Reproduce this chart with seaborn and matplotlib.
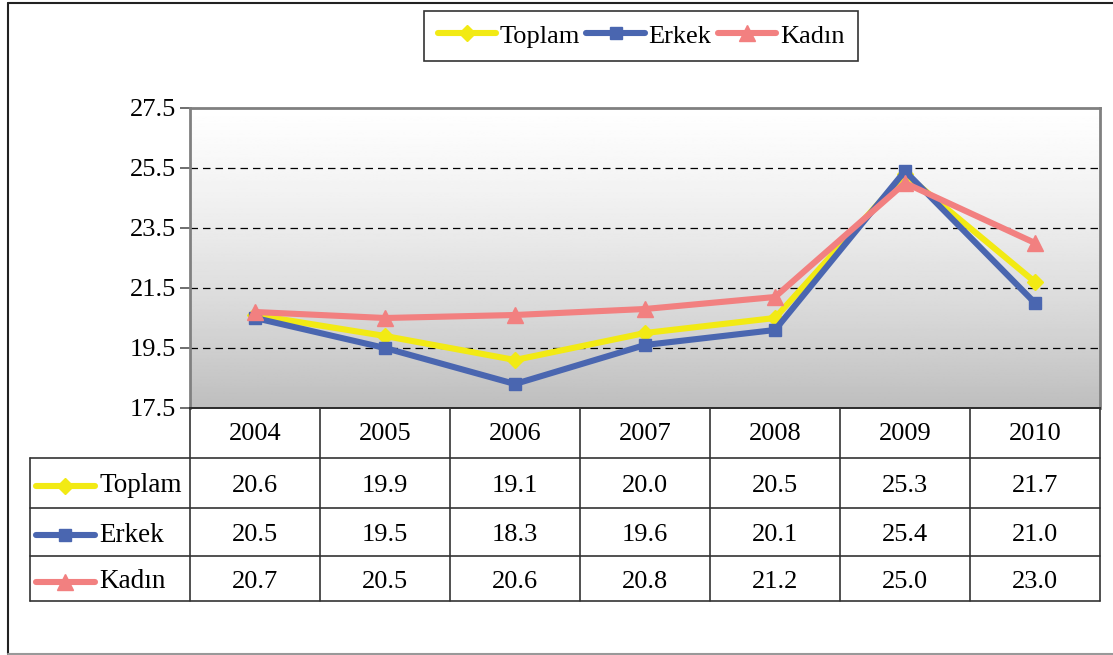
import numpy as np
import pandas as pd
import matplotlib.pyplot as plt
import seaborn as sns
from matplotlib.lines import Line2D

sns.set_theme(style="white")
plt.rcParams['font.family'] = ['Liberation Serif', 'DejaVu Serif']
plt.rcParams['text.color'] = 'black'
plt.rcParams['ytick.color'] = 'black'
plt.rcParams['xtick.color'] = 'black'

# data
years = ['2004', '2005', '2006', '2007', '2008', '2009', '2010']
toplam = [20.6, 19.9, 19.1, 20.0, 20.5, 25.3, 21.7]
erkek = [20.5, 19.5, 18.3, 19.6, 20.1, 25.4, 21.0]
kadin = [20.7, 20.5, 20.6, 20.8, 21.2, 25.0, 23.0]
series_names = ['Toplam', 'Erkek', 'Kadın']
y_ticks = [17.5, 19.5, 21.5, 23.5, 25.5, 27.5]
grid_levels = [19.5, 21.5, 23.5, 25.5]

colors = {'Toplam': '#F2EA14', 'Erkek': '#4A66B0', 'Kadın': '#F28080'}
markers = {'Toplam': 'D', 'Erkek': 's', 'Kadın': '^'}
msizes = {'Toplam': 8.5, 'Erkek': 8.0, 'Kadın': 11.5}

df = pd.DataFrame({'pos': np.arange(len(years)), 'year': years,
                   'Toplam': toplam, 'Erkek': erkek, 'Kadın': kadin})

W, H = 1113, 655
fig = plt.figure(figsize=(W / 100, H / 100), dpi=100)
FS = 19


def fig_rect(x0, y0, x1, y1):
    # pixel box (top-left origin) -> figure fraction rect
    return [x0 / W, 1 - y1 / H, (x1 - x0) / W, (y1 - y0) / H]


ax = fig.add_axes(fig_rect(190, 108, 1100, 408))

# gradient background of the plot area
shade = np.linspace(255, 190, 256)
shade = 255 - (255 - shade) * np.linspace(0.6, 1.0, 256)
grad = np.repeat((shade / 255)[:, None], 2, axis=1)
ax.imshow(grad, cmap='gray', vmin=0, vmax=1, aspect='auto',
          extent=(-0.5, 6.5, 17.5, 27.5), origin='upper', zorder=0)

for lv in grid_levels:
    ax.axhline(lv, color='black', linestyle=(0, (6, 4)), linewidth=0.9, zorder=1)

for name in series_names:
    sns.lineplot(data=df, x='pos', y=name, ax=ax, color=colors[name],
                 marker=markers[name], markersize=msizes[name],
                 markeredgecolor=colors[name], markeredgewidth=1,
                 linewidth=4.4, legend=False, zorder=3)

ax.set_xlim(-0.5, 6.5)
ax.set_ylim(17.5, 27.5)
ax.set_yticks(y_ticks)
ax.set_yticklabels([f'{v:.1f}' for v in y_ticks], fontsize=FS)
ax.set_xticks([])
ax.set_xlabel('')
ax.set_ylabel('')
ax.tick_params(axis='y', direction='out', length=7, width=1.2,
               color='#555555', labelcolor='black', pad=3, left=True)
for side in ['left', 'right', 'top']:
    ax.spines[side].set_color('#808080')
    ax.spines[side].set_linewidth(2)
ax.spines['bottom'].set_color('black')
ax.spines['bottom'].set_linewidth(1.2)

# legend at the top
handles = [Line2D([], [], color=colors[n], marker=markers[n], markersize=msizes[n],
                  markeredgecolor=colors[n], linewidth=4.4) for n in series_names]
leg = fig.legend(handles, series_names, loc='upper center', ncol=3,
                 bbox_to_anchor=(641 / W, 1 - 11 / H), fontsize=19,
                 frameon=True, fancybox=False, edgecolor='black',
                 handlelength=2.2, handletextpad=0.15, columnspacing=0.25,
                 borderpad=0.5, borderaxespad=0)
leg.get_frame().set_linewidth(1.2)

# data table below the plot
tab = fig.add_axes(fig_rect(30, 408, 1100, 601))
px_unit = 910 / 7
tab.set_xlim(-0.5 - 160 / px_unit, 6.5)
tab.set_ylim(193, 0)
tab.axis('off')


def px2x(px):
    return -0.5 + (px - 190) / px_unit


row_edges = [0, 50, 100, 148, 193]
left_x = px2x(30)
right_x = 6.5
lc = '#333333'
tab.plot([-0.5, right_x], [0, 0], color=lc, lw=1.2, clip_on=False)
for yy in row_edges[1:]:
    tab.plot([left_x, right_x], [yy, yy], color=lc, lw=1.2, clip_on=False)
for i in range(len(years) + 1):
    tab.plot([i - 0.5, i - 0.5], [0, 193], color=lc, lw=1.2, clip_on=False)
tab.plot([left_x, left_x], [50, 193], color=lc, lw=1.2, clip_on=False)

for i, yr in enumerate(years):
    tab.text(i, 26, yr, ha='center', va='center', fontsize=FS)

for r, name in enumerate(series_names):
    yc = (row_edges[r + 1] + row_edges[r + 2]) / 2 + 3
    for i in range(len(years)):
        tab.text(i, yc, f'{df[name][i]:.1f}', ha='center', va='center', fontsize=FS)
    tab.plot([px2x(36), px2x(95)], [yc, yc], color=colors[name], lw=4.4,
             solid_capstyle='round', clip_on=False)
    tab.plot([px2x(65)], [yc], marker=markers[name], markersize=msizes[name],
             color=colors[name], clip_on=False)
    tab.text(px2x(99), yc, name, ha='left', va='center', fontsize=19.5)

# outer chart frame
fig.add_artist(Line2D([8 / W, 8 / W], [1 - 3 / H, 1 - 654 / H], color='#222222', lw=1.5))
fig.add_artist(Line2D([8 / W, 1.0], [1 - 3 / H, 1 - 3 / H], color='#222222', lw=1.5))
fig.add_artist(Line2D([8 / W, 1.0], [1 - 654 / H, 1 - 654 / H], color='#999999', lw=1.5))

plt.savefig('out.png', dpi=100)
